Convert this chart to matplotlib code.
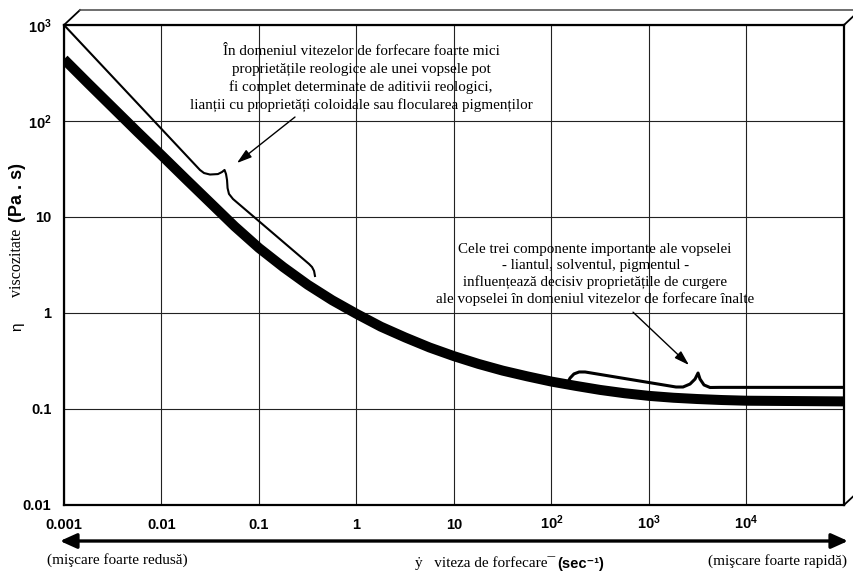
import matplotlib
matplotlib.use("Agg")
import matplotlib.pyplot as plt
from matplotlib.patches import FancyArrowPatch
from matplotlib.ticker import NullLocator

# ---------------- data ----------------
shear_rate = [0.001, 0.00178, 0.00316, 0.00562, 0.01, 0.0178, 0.0316, 0.0562,
              0.1, 0.178, 0.316, 0.562, 1, 1.78, 3.16, 5.62, 10, 17.8, 31.6,
              56.2, 100, 178, 316, 562, 1000, 1780, 3160, 5620, 1e4, 3.16e4,
              1e5]
viscosity = [440, 245, 138, 77.6, 44, 24.8, 14.1, 8.0, 4.75, 3.0, 1.97, 1.36,
             0.98, 0.72, 0.556, 0.437, 0.355, 0.295, 0.251, 0.219, 0.193,
             0.174, 0.158, 0.146, 0.137, 0.131, 0.127, 0.124, 0.122, 0.121,
             0.120]

# upper guide line with curly brace (low shear region)
brace1_x = [0.001, 0.0248, 0.0273, 0.0314, 0.0379, 0.0417, 0.0443, 0.0459,
            0.0470, 0.0476, 0.0492, 0.0541, 0.326, 0.35, 0.367, 0.375]
brace1_y = [1000, 30.9, 28.7, 27.7, 28.0, 29.4, 30.9, 28.0, 24.3, 20.0, 17.4,
            15.4, 3.24, 3.01, 2.74, 2.43]

# brace in high shear region
brace2_x = [147.6, 155, 170, 192, 221, 1892, 2233, 2636, 2966, 3184, 3337,
            3665, 4224, 5346, 1e5]
brace2_y = [0.191, 0.210, 0.232, 0.243, 0.243, 0.1695, 0.1695, 0.182, 0.205,
            0.237, 0.205, 0.178, 0.1675, 0.168, 0.168]

x_ticks = [1e-3, 1e-2, 1e-1, 1, 10, 100, 1000, 1e4]
x_tick_labels = ["0.001", "0.01", "0.1", "1", "10",
                 r"$\mathbf{10^{2}}$", r"$\mathbf{10^{3}}$", r"$\mathbf{10^{4}}$"]
y_ticks = [0.01, 0.1, 1, 10, 100, 1000]
y_tick_labels = ["0.01", "0.1", "1", "10",
                 r"$\mathbf{10^{2}}$", r"$\mathbf{10^{3}}$"]

note_low = ("În domeniul vitezelor de forfecare foarte mici\n"
            "proprietățile reologice ale unei vopsele pot\n"
            "fi complet determinate de aditivii reologici,\n"
            "lianții cu proprietăți coloidale sau flocularea pigmenților")
note_high = ("Cele trei componente importante ale vopselei\n"
             "- liantul, solventul, pigmentul -\n"
             "influențează decisiv proprietățile de curgere\n"
             "ale vopselei în domeniul vitezelor de forfecare înalte")
arrow_low_tail = (0.234, 110)
arrow_low_head = (0.0594, 36.5)
arrow_high_tail = (686, 1.02)
arrow_high_head = (2570, 0.287)

# ---------------- figure ----------------
plt.rcParams['mathtext.fontset'] = 'custom'
plt.rcParams['mathtext.bf'] = 'Liberation Sans:bold'
plt.rcParams['mathtext.rm'] = 'Liberation Sans'

W, H = 854, 571
fig = plt.figure(figsize=(W / 100, H / 100), dpi=100)
fig.patch.set_facecolor('white')
ax = fig.add_axes([64 / W, 66 / H, 780 / W, 480 / H])
ax.set_xscale('log')
ax.set_yscale('log')
ax.set_xlim(1e-3, 1e5)
ax.set_ylim(1e-2, 1e3)
ax.xaxis.set_minor_locator(NullLocator())
ax.yaxis.set_minor_locator(NullLocator())
ax.set_xticks(x_ticks)
ax.set_xticklabels(x_tick_labels)
ax.set_yticks(y_ticks)
ax.set_yticklabels(y_tick_labels)
ax.tick_params(length=0, labelsize=10.5)
ax.tick_params(axis='x', pad=17)
ax.tick_params(axis='y', pad=9)
for lab in ax.get_xticklabels():
    lab.set_fontfamily('Liberation Sans')
    lab.set_fontweight('bold')
    lab.set_verticalalignment('baseline')
for lab in ax.get_yticklabels():
    lab.set_fontfamily('Liberation Sans')
    lab.set_fontweight('bold')
    lab.set_verticalalignment('center_baseline')
ax.grid(True, which='major', color='#222222', lw=0.8)
for s in ax.spines.values():
    s.set_linewidth(1.6)
    s.set_color('black')

# curves
ax.plot(shear_rate, viscosity, color='black', lw=7.2,
        solid_capstyle='butt', solid_joinstyle='round', zorder=3)
ax.plot(brace1_x, brace1_y, color='black', lw=1.5,
        solid_joinstyle='round', zorder=3)
ax.plot(brace2_x, brace2_y, color='black', lw=2.2,
        solid_joinstyle='round', zorder=3)

# annotations
serif = ['Liberation Serif', 'DejaVu Serif']
ax.text(0.381, 0.888, note_low, transform=ax.transAxes, ha='center',
        va='center', multialignment='center', fontsize=10.9,
        family=serif, linespacing=1.4, zorder=4)
ax.text(0.681, 0.481, note_high, transform=ax.transAxes, ha='center',
        va='center', multialignment='center', fontsize=10.8,
        family=serif, linespacing=1.3, zorder=4)
arrow_props = dict(arrowstyle='-|>,head_length=0.9,head_width=0.28',
                   mutation_scale=10, lw=1.0, color='black',
                   shrinkA=0, shrinkB=0)
ax.annotate('', xy=arrow_low_head, xytext=arrow_low_tail,
            arrowprops=arrow_props, zorder=4)
ax.annotate('', xy=arrow_high_head, xytext=arrow_high_tail,
            arrowprops=arrow_props, zorder=4)

# pseudo-3D box edges
dx, dy = 16 / 780, 15 / 480
box_kw = dict(transform=ax.transAxes, clip_on=False, color='black', lw=1.3)
ax.plot([0, dx], [1, 1 + dy], **box_kw)
ax.plot([dx, 1 + dx], [1 + dy, 1 + dy], transform=ax.transAxes,
        clip_on=False, color='#555555', lw=1.2)
ax.plot([1, 1 + dx], [1, 1 + dy], **box_kw)
ax.plot([1, 1 + dx], [0, dy], **box_kw)


def fx(px):
    return px / W


def fy(py):
    return 1 - py / H


# y axis label (rotated)
fig.text(fx(17), fy(263), "viscozitate", rotation=90, ha='center',
         va='center', fontsize=11.5, family=serif)
fig.text(fx(17), fy(192), "(Pa . s)", rotation=90, ha='center',
         va='center', fontsize=13, family='Liberation Sans',
         fontweight='bold')
fig.text(fx(17), fy(327), "η", rotation=90, ha='center', va='center',
         fontsize=11, family=['Liberation Sans', 'DejaVu Sans'])

# bottom double arrow
arr = FancyArrowPatch((fx(60), fy(541)), (fx(848), fy(541)),
                      transform=fig.transFigure,
                      arrowstyle='<|-|>,head_length=1.0,head_width=0.45',
                      mutation_scale=10, lw=2.4, color='black',
                      shrinkA=0, shrinkB=0)
fig.add_artist(arr)

fig.text(fx(47), fy(560), "(mişcare foarte redusă)", ha='left',
         va='center', fontsize=11, family=serif)
fig.text(fx(847), fy(561), "(mişcare foarte rapidă)", ha='right',
         va='center', fontsize=11, family=serif)
fig.text(fx(555), fy(563), "ẏ   viteza de forfecare¯", ha='right',
         va='center', fontsize=11, family=serif)
fig.text(fx(557), fy(564), "(sec⁻¹)", ha='left',
         va='center', fontsize=10.5,
         family=['Liberation Sans', 'DejaVu Sans'], fontweight='bold')

fig.savefig("out.png", dpi=100, facecolor='white')
